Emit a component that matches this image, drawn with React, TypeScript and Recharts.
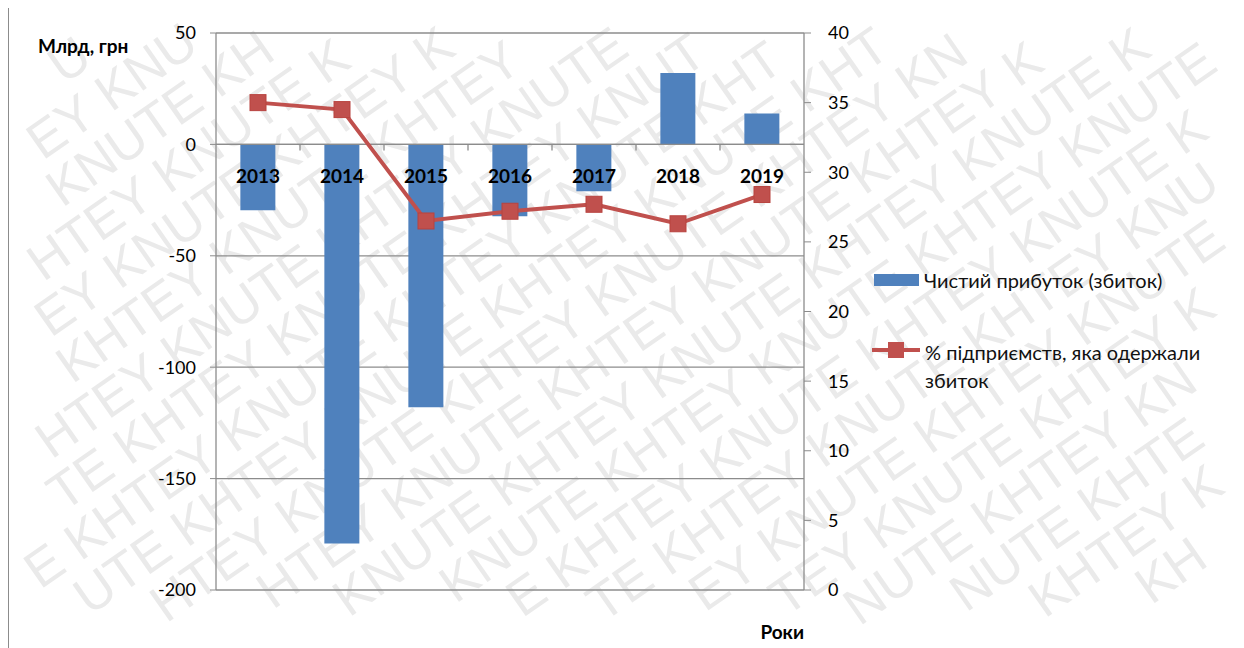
import { ComposedChart, Bar, Line, XAxis, YAxis, CartesianGrid, ReferenceLine } from 'recharts'

const years = ['2013', '2014', '2015', '2016', '2017', '2018', '2019']
// net profit (loss), bn UAH
const netProfit = [-29.5, -179.1, -118.0, -32.2, -21.0, 32.1, 13.9]
// share of enterprises with a loss, %
const lossShare = [35.0, 34.5, 26.5, 27.2, 27.7, 26.3, 28.4]
const leftTicks = [-200, -150, -100, -50, 0, 50]
const rightTicks = [0, 5, 10, 15, 20, 25, 30, 35, 40]

const barName = 'Чистий прибуток (збиток)'
const lineName = '% підприємств, яка одержали збиток'
const watermarkText = 'KHTEY KNUTE '

const data = years.map((year, i) => ({ year, profit: netProfit[i], share: lossShare[i] }))

const FONT = "Lato, 'Open Sans', sans-serif"
const GRID = '#8c8c8c'
const BLUE = '#4F81BD'
const RED = '#C0504D'

const W = 1229
const H = 660

function SquareDot(props: any) {
  const { cx, cy, index } = props
  if (cx == null || cy == null) return null
  return <rect key={index} x={cx - 8} y={cy - 8} width={16} height={16} fill={RED} stroke="#b8433f" />
}

// category labels and tick marks sitting on the zero line
function YearAxis(props: any) {
  const vb = props.viewBox ?? props
  const { x, y, width } = vb
  const band = width / years.length
  return (
    <g>
      {years.map((yr, i) => (
        <g key={yr}>
          {i > 0 && <line x1={x + i * band} x2={x + i * band} y1={y} y2={y + 6} stroke={GRID} strokeWidth={1.3} />}
          <text
            x={x + (i + 0.5) * band}
            y={y + 31}
            textAnchor="middle"
            dominantBaseline="central"
            fontFamily={FONT}
            fontWeight="bold"
            fontSize={19}
            fill="#000"
          >
            {yr}
          </text>
        </g>
      ))}
    </g>
  )
}

// Arial-metric advance widths (em) for the watermark letters
const glyphW: Record<string, number> = { K: 0.667, H: 0.722, T: 0.611, E: 0.667, Y: 0.667, N: 0.722, U: 0.722, ' ': 0.278 }

// faint diagonal watermark, drawn letter by letter so nothing pokes out of the frame
function Watermark() {
  const deg = -35
  const angle = (deg * Math.PI) / 180
  const cos = Math.cos(angle)
  const sin = Math.sin(angle)
  const cx = W / 2
  const cy = 320
  const size = 52
  const rowGap = 50
  const rot = (x: number, y: number) => [cx + (x - cx) * cos - (y - cy) * sin, cy + (x - cx) * sin + (y - cy) * cos]
  const items: { x: number; y: number; t: string; k: string }[] = []
  for (let r = -16; r < 30; r++) {
    const v = r * rowGap
    let u = -1100 + (((r % 2) + 2) % 2) * 95
    let n = 0
    while (u < 2200) {
      const ch = watermarkText[n % watermarkText.length]
      const w = glyphW[ch] * size
      if (ch !== ' ') {
        const corners = [rot(u, v - size * 0.92), rot(u + w, v - size * 0.92), rot(u, v + size * 0.22), rot(u + w, v + size * 0.22)]
        const inside = corners.every(([px, py]) => px > 1 && px < W - 3 && py > 1 && py < 630)
        if (inside) items.push({ x: u, y: v, t: ch, k: `${r}_${n}` })
      }
      u += w
      n++
    }
  }
  return (
    <svg width={W} height={H} style={{ position: 'absolute', left: 0, top: 0 }}>
      <g transform={`rotate(${deg} ${cx} ${cy})`} fontFamily="'Liberation Sans', Arial, sans-serif" fontSize={size} fill="#eaeaea">
        {items.map((it) => (
          <text key={it.k} x={it.x} y={it.y}>
            {it.t}
          </text>
        ))}
      </g>
    </svg>
  )
}

export default function App() {
  return (
    <div
      style={{
        position: 'relative',
        width: W,
        height: H,
        marginTop: -1,
        border: `1px solid ${GRID}`,
        overflow: 'hidden',
        background: '#fff',
        fontFamily: FONT,
      }}
    >
      <Watermark />
      <div style={{ position: 'absolute', left: 0, top: 0 }}>
        <ComposedChart
          width={W}
          height={650}
          data={data}
          margin={{ top: 25, right: 374, bottom: 68, left: 147 }}
          barCategoryGap="29%"
        >
          <CartesianGrid yAxisId="left" vertical={false} stroke={GRID} strokeWidth={1.3} />
          <XAxis dataKey="year" hide />
          <YAxis
            yAxisId="left"
            domain={[-200, 50]}
            ticks={leftTicks}
            interval={0}
            width={60}
            axisLine={{ stroke: GRID, strokeWidth: 1.3 }}
            tickLine={{ stroke: GRID }}
            tickSize={6}
            tickMargin={14}
            tick={{ fill: '#000', fontSize: 18, fontFamily: FONT }}
          />
          <YAxis
            yAxisId="right"
            orientation="right"
            domain={[0, 40]}
            ticks={rightTicks}
            interval={0}
            width={60}
            axisLine={{ stroke: GRID, strokeWidth: 1.3 }}
            tickLine={{ stroke: GRID }}
            tickSize={7}
            tickMargin={17}
            tick={{ fill: '#000', fontSize: 18, fontFamily: FONT, textAnchor: 'start' }}
          />
          <Bar yAxisId="left" dataKey="profit" name={barName} fill={BLUE} isAnimationActive={false} />
          <ReferenceLine yAxisId="left" y={0} stroke={GRID} strokeWidth={1.3} label={<YearAxis />} />
          <Line
            yAxisId="right"
            dataKey="share"
            name={lineName}
            stroke={RED}
            strokeWidth={4}
            dot={<SquareDot />}
            activeDot={false}
            isAnimationActive={false}
          />
        </ComposedChart>
      </div>

      <div style={{ position: 'absolute', left: 29, top: 28, lineHeight: '20px', fontSize: 19, fontWeight: 'bold' }}>
        Млрд, грн
      </div>
      <div
        style={{
          position: 'absolute',
          left: 695,
          width: 100,
          top: 614,
          lineHeight: '20px',
          fontSize: 19,
          fontWeight: 'bold',
          textAlign: 'right',
        }}
      >
        Роки
      </div>

      {/* legend */}
      <div style={{ position: 'absolute', left: 865, top: 266, width: 45, height: 12, background: BLUE }} />
      <div style={{ position: 'absolute', left: 915, top: 258, lineHeight: '28px', fontSize: 20, color: '#111' }}>
        {barName}
      </div>
      <div style={{ position: 'absolute', left: 863, top: 340, width: 48, height: 4, background: RED }} />
      <div style={{ position: 'absolute', left: 879, top: 334, width: 16, height: 16, background: RED }} />
      <div
        style={{ position: 'absolute', left: 916, top: 330, width: 310, lineHeight: '28px', fontSize: 20, color: '#111' }}
      >
        % підприємств, яка одержали
        <br />
        збиток
      </div>
    </div>
  )
}
